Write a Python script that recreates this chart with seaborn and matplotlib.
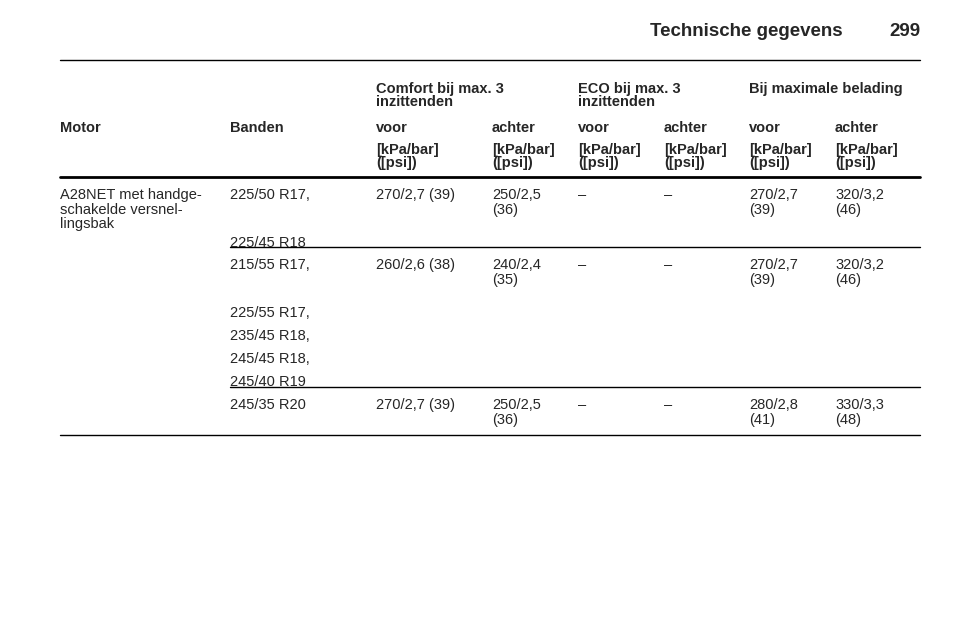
import matplotlib
matplotlib.use("Agg")
import matplotlib.pyplot as plt
import seaborn as sns

sns.set_theme(style="white")
plt.rcParams['font.family'] = ['Liberation Sans', 'DejaVu Sans']

title = "Technische gegevens"
page = "299"
group_headers = ["Comfort bij max. 3\ninzittenden", "ECO bij max. 3\ninzittenden", "Bij maximale belading"]
columns = ["Motor", "Banden", "voor", "achter", "voor", "achter", "voor", "achter"]
units = "[kPa/bar]\n([psi])"
motor = "A28NET met handge-\nschakelde versnel-\nlingsbak"
tyres = [["225/50 R17,", "225/45 R18"],
         ["215/55 R17,", "225/55 R17,", "235/45 R18,", "245/45 R18,", "245/40 R19"],
         ["245/35 R20"]]
pressures = [["270/2,7 (39)", "250/2,5\n(36)", "–", "–", "270/2,7\n(39)", "320/3,2\n(46)"],
             ["260/2,6 (38)", "240/2,4\n(35)", "–", "–", "270/2,7\n(39)", "320/3,2\n(46)"],
             ["270/2,7 (39)", "250/2,5\n(36)", "–", "–", "280/2,8\n(41)", "330/3,3\n(48)"]]

W, H = 960, 642
fig = plt.figure(figsize=(9.6, 6.42), dpi=100)
ax = fig.add_axes([0, 0, 1, 1])
ax.set_xlim(0, W); ax.set_ylim(H, 0); ax.axis("off")

colx = [60, 230, 376, 492, 578, 664, 749, 835]
fs = 10.5
ax.text(843, 31, title, fontsize=13.5, fontweight="bold", ha="right", va="center")
ax.text(920, 31, page, fontsize=13.5, fontweight="bold", ha="right", va="center")
ax.plot([60, 920], [60, 60], color="black", lw=1)

for i, g in enumerate(group_headers):
    ax.text(colx[2 + 2 * i], 82, g, fontsize=fs, fontweight="bold", va="top", linespacing=0.95)
for x, c in zip(colx, columns):
    ax.text(x, 128, c, fontsize=fs, fontweight="bold", va="center")
for x in colx[2:]:
    ax.text(x, 143, units, fontsize=fs, fontweight="bold", va="top", linespacing=0.95)
ax.plot([60, 920], [177, 177], color="black", lw=2)

ax.text(60, 188, motor, fontsize=fs, va="top", linespacing=1.05)
row_tops = [188, 258, 398]
tyre_steps = [[0, 48], [0, 48, 71, 94, 117], [0]]
lines = [(230, 247, 1), (230, 387, 1), (60, 435, 1)]
for r in range(3):
    y0 = row_tops[r]
    for t, dy in zip(tyres[r], tyre_steps[r]):
        ax.text(colx[1], y0 + dy, t, fontsize=fs, va="top")
    for x, p in zip(colx[2:], pressures[r]):
        ax.text(x, y0, p, fontsize=fs, va="top", linespacing=1.05)
    x0, y, lw = lines[r]
    ax.plot([x0, 920], [y, y], color="black", lw=lw)

fig.savefig("out.png", dpi=100)
